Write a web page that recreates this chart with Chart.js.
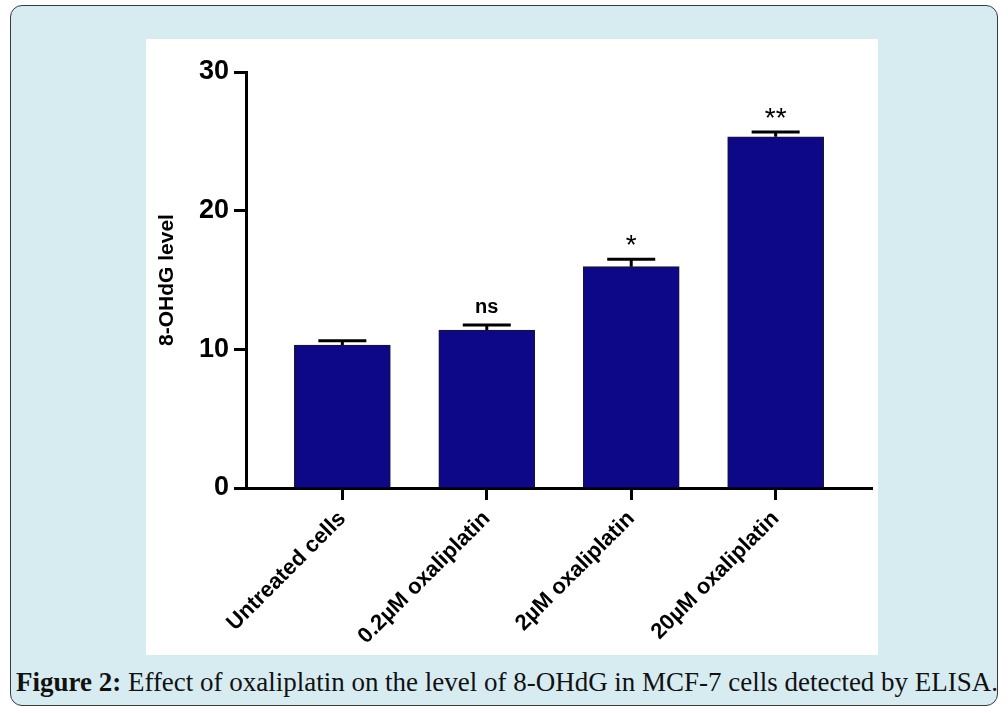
<!DOCTYPE html>
<html>
<head>
<meta charset="utf-8">
<script src="https://cdn.jsdelivr.net/npm/chart.js@4/dist/chart.umd.min.js"></script>
<style>
  html, body { margin: 0; padding: 0; background: #ffffff; }
  body { width: 1008px; height: 713px; position: relative; overflow: hidden; }
  .frame {
    position: absolute; left: 10px; top: 5px; width: 988px; height: 701px;
    background: #d7ecf1; border: 1.5px solid #3a3a3a; border-radius: 12px; box-sizing: border-box;
  }
  .panel { position: absolute; left: 146px; top: 39px; width: 732px; height: 616px; background: #ffffff; }
  .caption {
    position: absolute; left: 16px; top: 666px; display: inline-block; white-space: nowrap;
    font-family: "Liberation Serif", "DejaVu Serif", serif; font-size: 28px; color: #111;
    transform-origin: left top;
  }
  .caption b { font-weight: bold; }
</style>
</head>
<body>
<div class="frame"></div>
<div class="panel"><canvas id="chart" width="732" height="616"></canvas></div>
<span class="caption" id="caption"><b>Figure 2:</b> Effect of oxaliplatin on the level of 8-OHdG in MCF-7 cells detected by ELISA.</span>
<script>
// Treatment groups and measured 8-OHdG levels (mean and SEM)
const categories = ['Untreated cells', '0.2\u00B5M oxaliplatin', '2\u00B5M oxaliplatin', '20\u00B5M oxaliplatin'];
const levels = [10.31, 11.39, 15.96, 25.33];
const sem = [0.31, 0.36, 0.53, 0.34];
const significance = ['', 'ns', '*', '**'];
const yTicks = [0, 10, 20, 30];

const FONT = "Arial, 'Liberation Sans', sans-serif";
const BAR = '#0d0887';

// Upper error bars and significance marks above each bar
const errorBars = {
  id: 'errorBars',
  afterDatasetsDraw(chart) {
    const { ctx, scales: { x, y } } = chart;
    ctx.save();
    ctx.strokeStyle = '#000';
    ctx.lineWidth = 3;
    ctx.fillStyle = '#000';
    ctx.textAlign = 'center';
    ctx.textBaseline = 'bottom';
    levels.forEach((v, i) => {
      const cx = x.getPixelForValue(i);
      const yBar = y.getPixelForValue(v);
      const yCap = y.getPixelForValue(v + sem[i]);
      ctx.beginPath();
      ctx.moveTo(cx, yBar);
      ctx.lineTo(cx, yCap);
      ctx.moveTo(cx - 24, yCap);
      ctx.lineTo(cx + 24, yCap);
      ctx.stroke();
      if (significance[i]) {
        const isStar = significance[i].indexOf('*') >= 0;
        ctx.font = isStar ? ('28px ' + FONT) : ('bold 20px ' + FONT);
        ctx.fillText(significance[i], cx, yCap + (isStar ? 1 : -8));
      }
    });
    ctx.restore();
  }
};

new Chart(document.getElementById('chart'), {
  type: 'bar',
  data: {
    datasets: [{
      data: levels.map((v, i) => ({ x: i, y: v })),
      backgroundColor: BAR,
      borderColor: '#1a1a1a',
      borderWidth: 1,
      borderSkipped: 'bottom',
      barThickness: 96
    }]
  },
  options: {
    responsive: false,
    animation: false,
    events: [],
    layout: { padding: { top: 33, right: 6, left: 0, bottom: 0 } },
    plugins: { legend: { display: false }, tooltip: { enabled: false } },
    scales: {
      x: {
        type: 'linear',
        offset: false,
        min: -0.667,
        max: 3.667,
        afterBuildTicks(scale) { scale.ticks = categories.map((c, i) => ({ value: i })); },
        afterFit(scale) { scale.height = 167; },
        grid: { display: true, offset: false, drawOnChartArea: false, drawTicks: true, tickLength: 12, tickWidth: 3, tickColor: '#000' },
        border: { display: true, color: '#000', width: 3 },
        ticks: {
          autoSkip: false,
          minRotation: 45,
          maxRotation: 45,
          padding: 6,
          color: '#000',
          font: { family: FONT, size: 22, weight: 'bold' },
          callback: (v) => categories[v]
        }
      },
      y: {
        min: 0,
        max: 30,
        afterBuildTicks(scale) { scale.ticks = yTicks.map(v => ({ value: v })); },
        afterFit(scale) { scale.width = 100; },
        grid: { display: true, drawOnChartArea: false, drawTicks: true, tickLength: 12, tickWidth: 3, tickColor: '#000' },
        border: { display: true, color: '#000', width: 3 },
        ticks: {
          padding: 5,
          color: '#000',
          font: { family: FONT, size: 27, weight: 'bold' }
        },
        title: {
          display: true,
          text: '8-OHdG level',
          color: '#000',
          padding: { top: 9, bottom: 0 },
          font: { family: FONT, size: 21, weight: 'bold' }
        }
      }
    }
  },
  plugins: [errorBars]
});

// Fit the caption line to the frame width
const cap = document.getElementById('caption');
const w = cap.getBoundingClientRect().width;
cap.style.transform = 'scaleX(' + (982 / w) + ')';
</script>
</body>
</html>
